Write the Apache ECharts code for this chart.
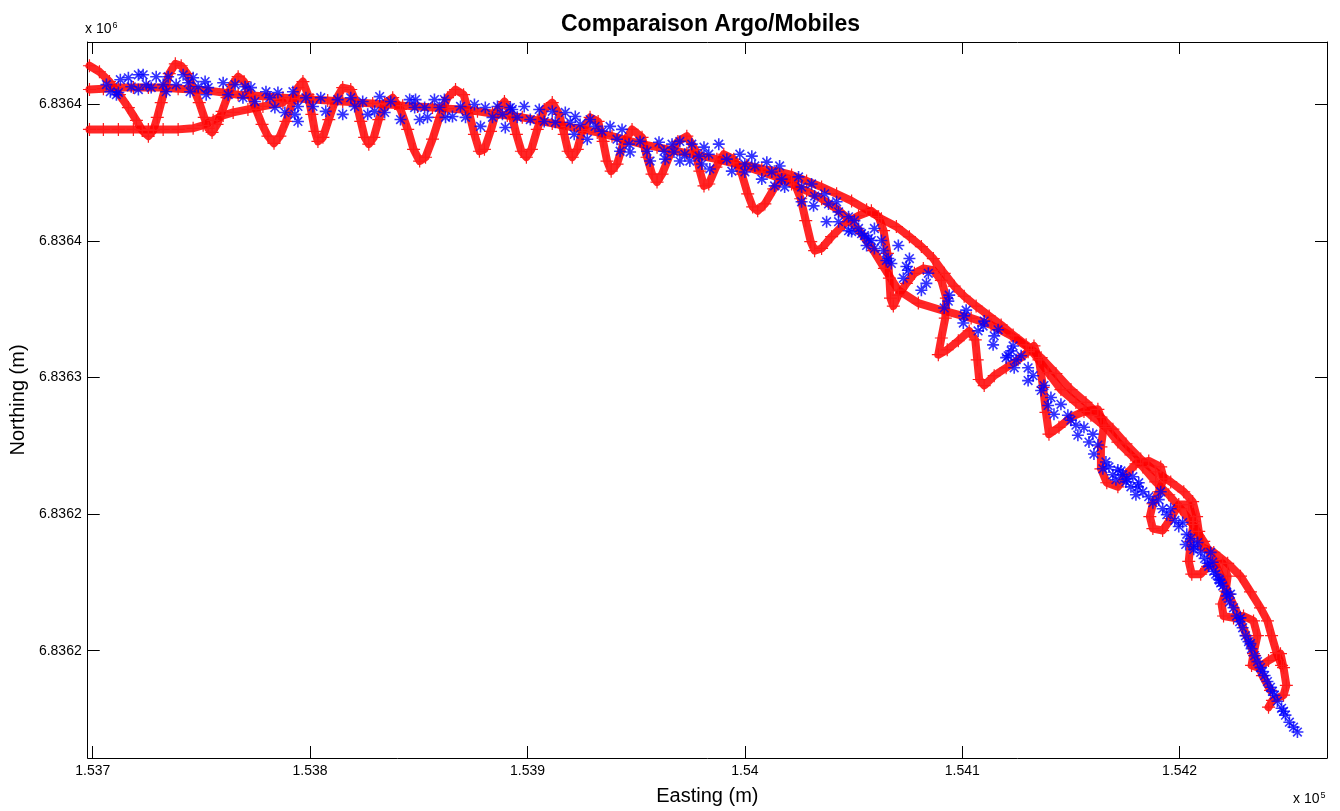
<!DOCTYPE html>
<html>
<head>
<meta charset="utf-8">
<script src="https://cdn.jsdelivr.net/npm/echarts@6/dist/echarts.min.js"></script>
<style>
  html, body { margin: 0; padding: 0; background: #ffffff; }
  #chart { width: 1340px; height: 811px; }
</style>
</head>
<body>
<div id="chart"></div>
<script>
// Axis ticks (metres, Lambert easting / northing)
const xTickValues = [153700, 153800, 153900, 154000, 154100, 154200];
const xTickLabels = ['1.537', '1.538', '1.539', '1.54', '1.541', '1.542'];
const yTickValues = [6836200, 6836250, 6836300, 6836350, 6836400];
const yTickLabels = ['6.8362', '6.8362', '6.8363', '6.8364', '6.8364'];
const xRange = [153697.7, 154267.8];
const yRange = [6836160.7, 6836422.9];

// Mobile positions: weaving pass
const mobileWave = [[153698.5,6836414.2],[153703.1,6836412.0],[153707.7,6836408.4],[153712.3,6836403.6],[153716.4,6836398.9],[153720.1,6836394.2],[153722.8,6836390.5],[153725.6,6836388.4],[153727.9,6836390.5],[153729.7,6836395.3],[153731.5,6836400.7],[153733.4,6836406.2],[153735.2,6836411.3],[153738.0,6836414.9],[153740.7,6836414.2],[153743.5,6836411.3],[153746.2,6836406.2],[153749.0,6836400.7],[153751.3,6836395.3],[153753.1,6836391.3],[153754.9,6836389.8],[153757.2,6836392.7],[153759.5,6836397.5],[153761.8,6836402.5],[153764.1,6836407.3],[153766.9,6836410.2],[153769.6,6836408.4],[153772.4,6836403.6],[153775.1,6836398.2],[153777.9,6836392.7],[153780.6,6836388.4],[153783.4,6836385.8],[153786.1,6836388.4],[153788.9,6836393.8],[153791.6,6836400.4],[153794.4,6836406.2],[153796.7,6836408.4],[153799.0,6836403.6],[153800.8,6836396.4],[153802.2,6836390.2],[153803.6,6836386.5],[153805.9,6836388.0],[153808.6,6836394.5],[153811.4,6836401.1],[153815.0,6836406.2],[153818.7,6836405.5],[153821.5,6836400.0],[153823.3,6836393.8],[153825.1,6836388.0],[153827.0,6836385.5],[153829.3,6836388.0],[153831.6,6836394.5],[153834.3,6836400.4],[153838.0,6836402.5],[153841.6,6836398.2],[153844.9,6836390.9],[153847.6,6836383.6],[153850.4,6836379.3],[153853.1,6836380.7],[153856.3,6836387.3],[153859.5,6836395.3],[153863.2,6836402.5],[153866.9,6836405.5],[153870.6,6836403.6],[153873.3,6836396.4],[153875.6,6836389.1],[153877.9,6836382.9],[153880.2,6836383.6],[153883.0,6836390.2],[153885.7,6836397.5],[153889.4,6836401.1],[153892.6,6836396.4],[153894.9,6836389.1],[153897.2,6836382.9],[153899.5,6836380.7],[153901.8,6836383.6],[153904.5,6836390.9],[153907.7,6836398.2],[153911.4,6836400.7],[153914.6,6836396.4],[153916.9,6836389.1],[153918.7,6836382.9],[153920.6,6836380.7],[153922.9,6836383.6],[153925.2,6836390.2],[153928.8,6836395.3],[153932.5,6836393.8],[153934.8,6836386.5],[153936.6,6836379.3],[153938.5,6836375.6],[153941.2,6836378.2],[153944.0,6836385.5],[153948.1,6836390.9],[153952.7,6836388.0],[153955.0,6836380.7],[153957.3,6836374.5],[153959.6,6836371.6],[153961.9,6836374.5],[153965.6,6836381.8],[153969.2,6836386.5],[153973.3,6836388.4],[153977.0,6836383.6],[153979.3,6836375.6],[153981.2,6836370.2],[153983.4,6836370.9],[153986.7,6836377.1],[153990.3,6836381.8],[153994.9,6836380.0],[153998.6,6836374.5],[154001.3,6836367.3],[154003.6,6836362.5],[154005.9,6836361.1],[154009.2,6836363.6],[154013.3,6836369.1],[154017.9,6836373.5],[154022.5,6836372.0],[154025.7,6836365.5],[154028.0,6836357.5],[154030.3,6836349.8],[154032.1,6836346.5],[154035.3,6836347.3],[154039.9,6836351.6],[154045.9,6836356.4],[154052.3,6836359.3],[154058.2,6836361.1],[154061.5,6836358.9],[154063.8,6836353.8],[154065.6,6836345.5],[154066.5,6836336.4],[154067.0,6836329.1],[154068.3,6836326.2],[154070.6,6836330.2],[154074.3,6836334.5],[154078.0,6836338.2],[154082.1,6836340.0],[154086.7,6836339.3],[154090.4,6836335.6],[154092.7,6836329.1],[154092.2,6836321.8],[154090.4,6836314.5],[154089.0,6836308.4],[154093.1,6836310.2],[154098.2,6836313.5],[154103.2,6836317.1],[154106.0,6836313.8],[154106.9,6836306.5],[154107.8,6836299.3],[154110.1,6836297.1],[154114.7,6836300.7],[154120.2,6836303.6],[154125.7,6836306.5],[154130.3,6836309.5],[154133.0,6836311.6],[154135.3,6836306.5],[154137.2,6836296.4],[154138.5,6836287.3],[154139.9,6836279.3],[154144.5,6836281.8],[154150.0,6836285.5],[154156.0,6836287.6],[154162.4,6836288.4],[154165.2,6836282.6],[154163.8,6836274.6],[154163.8,6836266.6],[154166.5,6836261.5],[154171.6,6836260.0],[154175.3,6836264.4],[154179.9,6836268.4],[154185.8,6836269.5],[154191.3,6836267.3],[154192.7,6836262.9],[154190.4,6836258.2],[154187.7,6836253.8],[154186.3,6836249.1],[154187.7,6836244.7],[154192.2,6836244.0],[154195.9,6836248.4],[154199.6,6836253.5],[154204.2,6836253.5],[154206.5,6836247.3],[154205.1,6836240.0],[154204.2,6836232.7],[154205.6,6836228.0],[154209.7,6836228.0],[154212.9,6836230.9],[154219.8,6836232.0],[154222.1,6836227.3],[154221.2,6836221.8],[154219.3,6836217.1],[154220.2,6836212.7],[154224.8,6836212.0],[154229.4,6836212.7],[154234.0,6836210.9],[154235.8,6836205.5],[154234.0,6836198.9],[154233.1,6836194.6],[154236.3,6836193.8],[154240.9,6836196.4],[154246.4,6836198.9],[154247.8,6836193.8],[154249.1,6836187.3],[154247.8,6836183.7],[154242.7,6836181.8],[154240.9,6836179.3]];

// Mobile positions: steady pass along the route
const mobileMain = [[153698.5,6836405.5],[153704.9,6836405.8],[153711.8,6836406.2],[153718.7,6836406.2],[153725.6,6836406.2],[153732.4,6836406.2],[153739.3,6836405.8],[153746.2,6836405.5],[153753.1,6836405.1],[153760.0,6836404.4],[153766.9,6836403.6],[153773.7,6836403.3],[153780.6,6836402.9],[153787.5,6836402.5],[153794.4,6836402.2],[153801.3,6836401.8],[153808.1,6836401.5],[153815.0,6836401.1],[153821.9,6836400.7],[153828.8,6836400.4],[153835.7,6836400.0],[153842.6,6836399.6],[153849.4,6836399.3],[153856.3,6836398.9],[153863.2,6836398.5],[153870.1,6836398.2],[153877.0,6836397.5],[153883.9,6836396.7],[153890.7,6836396.0],[153897.6,6836395.3],[153904.5,6836394.2],[153911.4,6836393.1],[153918.3,6836392.0],[153925.2,6836390.9],[153932.1,6836389.8],[153938.9,6836388.4],[153945.8,6836386.9],[153952.7,6836385.5],[153959.6,6836384.4],[153966.5,6836383.3],[153973.3,6836382.2],[153980.2,6836381.1],[153987.1,6836380.0],[153994.0,6836378.6],[154000.9,6836377.1],[154007.8,6836375.3],[154014.6,6836373.5],[154021.5,6836370.9],[154028.4,6836368.4],[154035.3,6836365.5],[154042.2,6836361.8],[154048.1,6836357.8],[154053.7,6836352.7],[154059.2,6836346.5],[154064.2,6836340.0],[154070.6,6836332.0],[154079.8,6836327.3],[154091.7,6836324.4],[154104.1,6836321.8],[154113.3,6836319.3],[154122.5,6836315.3],[154131.7,6836310.2],[154139.5,6836301.8],[154145.4,6836295.6],[154152.3,6836290.9],[154159.2,6836286.2],[154166.1,6836281.8],[154171.6,6836276.4],[154177.6,6836271.7],[154183.1,6836267.3],[154189.0,6836261.8],[154195.0,6836257.1],[154200.5,6836252.0],[154206.0,6836246.2],[154211.1,6836240.0],[154215.2,6836233.8],[154218.9,6836227.3],[154222.5,6836220.7],[154226.7,6836213.5],[154230.8,6836205.5],[154234.5,6836198.2],[154238.1,6836190.9],[154241.8,6836185.5]];

// Mobile positions: western start line
const mobileWest = [[153698.5,6836390.9],[153704.9,6836390.9],[153711.8,6836390.9],[153718.7,6836390.9],[153725.6,6836390.9],[153732.4,6836390.9],[153739.3,6836390.9],[153746.2,6836391.3],[153750.8,6836392.4],[153755.4,6836394.2],[153760.0,6836396.0],[153764.6,6836397.1],[153771.4,6836398.2],[153778.3,6836399.3],[153787.5,6836400.7]];

// Mobile positions: outer return pass
const mobileOuter = [[154000.9,6836377.8],[154007.8,6836376.4],[154014.6,6836375.6],[154021.5,6836374.2],[154028.4,6836372.0],[154035.3,6836369.8],[154042.2,6836367.3],[154049.1,6836364.7],[154056.0,6836361.5],[154062.8,6836358.2],[154069.7,6836355.3],[154075.7,6836351.6],[154081.2,6836348.0],[154086.7,6836343.6],[154091.7,6836338.2],[154096.3,6836333.5],[154100.9,6836329.8],[154106.4,6836326.2],[154112.4,6836322.6],[154117.9,6836319.3],[154123.4,6836315.6],[154129.4,6836312.0],[154136.3,6836307.3],[154143.1,6836301.5],[154150.0,6836295.6],[154156.9,6836290.9],[154163.8,6836285.5],[154169.3,6836281.1],[154175.3,6836275.7],[154182.1,6836270.2],[154189.0,6836265.5],[154195.9,6836261.8],[154201.9,6836258.2],[154206.0,6836254.6],[154207.8,6836249.1],[154208.8,6836243.7],[154209.7,6836238.2],[154215.7,6836236.0],[154222.1,6836232.0],[154228.0,6836227.3],[154232.6,6836221.5],[154237.2,6836215.7],[154240.4,6836210.9],[154242.3,6836205.5],[154244.6,6836199.3],[154246.9,6836194.6]];

// Argo fixes
const argoFixes = [[153706.3,6836407.3],[153712.7,6836409.1],[153716.4,6836409.8],[153721.0,6836410.9],[153723.2,6836410.9],[153729.2,6836410.2],[153734.7,6836410.2],[153741.6,6836410.9],[153746.2,6836409.8],[153751.7,6836408.4],[153708.1,6836404.7],[153711.8,6836404.4],[153717.7,6836406.5],[153724.6,6836407.3],[153726.9,6836406.2],[153732.4,6836407.3],[153738.4,6836407.3],[153743.9,6836408.0],[153748.5,6836406.5],[153753.1,6836406.2],[153760.0,6836408.0],[153765.5,6836407.3],[153770.1,6836406.5],[153772.8,6836406.2],[153779.7,6836404.7],[153785.2,6836404.4],[153792.1,6836404.7],[153710.9,6836403.6],[153721.0,6836405.5],[153733.8,6836404.7],[153744.8,6836404.7],[153752.2,6836403.6],[153762.3,6836403.6],[153769.1,6836402.5],[153774.6,6836401.1],[153781.5,6836402.5],[153783.8,6836398.9],[153788.4,6836397.1],[153793.0,6836396.4],[153794.4,6836393.8],
[153794.4,6836399.3],[153798.1,6836402.5],[153801.3,6836399.3],[153804.9,6836402.5],[153807.2,6836397.5],[153812.7,6836401.8],[153815.0,6836396.4],[153818.7,6836402.5],[153820.5,6836399.3],[153824.2,6836401.1],[153826.5,6836396.4],[153829.7,6836397.5],[153832.0,6836402.9],[153834.3,6836397.1],[153837.1,6836401.1],[153841.6,6836394.5],[153845.8,6836401.8],[153848.5,6836401.8],[153848.1,6836398.9],[153850.4,6836394.5],[153852.7,6836398.9],[153854.0,6836395.3],[153857.2,6836401.8],[153859.5,6836398.9],[153861.8,6836401.8],[153862.3,6836395.3],[153865.5,6836395.6],[153869.2,6836399.3],[153871.5,6836395.3],[153875.6,6836400.0],[153878.4,6836392.0],[153880.6,6836398.9],[153883.9,6836395.3],[153886.2,6836399.3],[153888.5,6836396.4],[153889.8,6836391.6],[153892.1,6836398.9],
[153893.0,6836398.2],[153895.3,6836395.3],[153898.5,6836399.3],[153901.3,6836394.5],[153905.4,6836398.2],[153907.7,6836393.8],[153911.4,6836397.5],[153912.8,6836393.5],[153917.4,6836397.1],[153919.7,6836393.5],[153922.0,6836395.6],[153924.2,6836392.7],[153928.8,6836394.5],[153931.1,6836392.0],[153934.3,6836390.2],[153921.5,6836389.1],[153927.5,6836387.3],[153938.0,6836392.0],[153941.2,6836387.3],[153943.5,6836390.9],[153942.6,6836382.9],[153947.2,6836382.6],[153946.7,6836385.5],[153951.8,6836386.5],[153955.0,6836382.9],[153956.4,6836379.3],[153960.5,6836386.2],[153962.8,6836382.9],[153963.3,6836380.0],[153966.5,6836385.5],[153967.4,6836382.6],[153970.1,6836386.5],[153970.1,6836379.3],[153972.4,6836381.8],[153975.6,6836385.5],[153974.7,6836379.3],[153978.9,6836381.1],[153981.2,6836384.4],[153980.2,6836378.2],[153983.9,6836376.4],[153983.4,6836381.8],[153988.0,6836385.5],
[153991.7,6836380.0],[153994.0,6836375.6],[153997.7,6836381.8],[154000.0,6836378.2],[154003.2,6836381.1],[154000.0,6836375.3],[154004.6,6836377.5],[154010.1,6836378.9],[154012.4,6836375.3],[154007.8,6836372.7],[154016.0,6836377.5],[154016.9,6836372.7],[154013.7,6836370.2],[154018.3,6836369.8],[154024.7,6836373.5],[154026.1,6836369.8],[154030.7,6836370.9],[154026.1,6836364.4],[154032.1,6836366.5],[154031.6,6836362.9],[154036.7,6836367.3],[154038.5,6836363.6],[154042.2,6836364.4],[154043.1,6836360.7],[154037.6,6836357.1],[154043.1,6836357.1],[154047.7,6836358.9],[154050.4,6836357.5],[154047.7,6836353.8],[154052.3,6836354.6],[154053.7,6836352.7],[154059.6,6836354.6],[154056.9,6836350.9],[154056.0,6836348.4],[154062.8,6836350.2],[154059.6,6836347.3],[154063.8,6836346.5],[154070.6,6836348.4],[154066.0,6836343.6],[154067.4,6836341.8],
[154049.1,6836353.5],[154055.0,6836352.0],[154058.2,6836350.2],[154065.1,6836342.9],[154075.7,6836343.6],[154074.3,6836340.7],[154075.2,6836339.3],[154072.9,6836336.4],[154084.4,6836338.2],[154083.5,6836334.5],[154081.2,6836332.0],[154094.0,6836330.2],[154093.6,6836328.0],[154091.7,6836325.5],[154101.8,6836324.7],[154100.9,6836322.6],[154100.5,6836320.0],[154107.3,6836317.1],[154110.1,6836320.7],[154109.6,6836318.9],[154116.5,6836317.5],[154114.7,6836315.3],[154114.2,6836312.0],[154121.1,6836308.0],[154123.4,6836311.6],[154122.5,6836309.8],[154124.8,6836306.5],[154123.9,6836303.6],
[154127.1,6836308.0],[154120.2,6836307.3],[154130.3,6836303.6],[154132.6,6836300.7],[154130.3,6836298.9],[154136.3,6836295.3],[154137.6,6836297.1],[154140.8,6836292.7],[154139.5,6836289.8],[154145.4,6836290.2],[154142.2,6836286.6],[154148.6,6836286.2],[154150.0,6836284.4],[154152.3,6836282.6],[154156.0,6836281.8],[154153.2,6836278.9],[154160.1,6836279.3],[154158.3,6836276.4],[154162.4,6836275.3],[154160.6,6836272.0],[154166.1,6836269.1],[154164.7,6836266.6],[154171.6,6836266.2],[154173.9,6836264.4],[154175.3,6836261.8],[154178.5,6836263.7],[154180.8,6836260.0],[154170.7,6836262.6],
[154167.5,6836267.3],[154169.3,6836264.4],[154173.0,6836265.8],[154175.7,6836262.9],[154177.6,6836260.0],[154181.2,6836261.5],[154183.1,6836258.2],[154185.8,6836256.4],[154187.7,6836254.2],[154190.4,6836255.3],[154192.2,6836252.0],[154194.1,6836249.8],[154195.9,6836252.0],[154197.8,6836247.7],[154199.6,6836245.5],[154201.4,6836246.9],[154203.3,6836242.6],[154205.1,6836241.1],[154206.5,6836238.2],[154208.3,6836239.6],[154209.7,6836236.0],[154211.5,6836233.8],[154213.4,6836230.9],[154215.2,6836232.4],[154216.6,6836228.0],[154218.4,6836225.8],[154219.8,6836223.7],[154221.6,6836221.5],[154214.3,6836236.0],[154202.8,6836238.9],[154191.3,6836258.2],[154179.9,6836257.1],
[154206.5,6836237.1],[154212.9,6836232.0],[154218.9,6836224.8],[154215.7,6836229.1],[154218.0,6836226.2],[154221.6,6836220.0],[154223.0,6836217.8],[154224.8,6836215.7],[154226.2,6836212.7],[154227.6,6836210.6],[154229.0,6836208.4],[154230.3,6836205.5],[154231.7,6836203.3],[154233.1,6836200.7],[154234.5,6836198.2],[154235.8,6836196.0],[154237.2,6836193.8],[154239.1,6836190.9],[154240.4,6836188.7],[154241.8,6836186.6],[154243.6,6836183.7],[154245.0,6836181.5],[154246.9,6836178.9],[154248.7,6836176.4],[154250.5,6836173.8],[154252.4,6836172.0],[154254.2,6836170.2],[154223.4,6836220.7],[154228.0,6836212.0],[154232.6,6836202.6],[154238.1,6836192.4],[154242.7,6836185.1],[154247.8,6836177.8]];

const FONT = '"Liberation Sans", Arial, Helvetica, sans-serif';
const plusMark = 'path://M0,-5L0,5M-5,0L5,0';
const starMark = 'path://M0,-5L0,5M-5,0L5,0M-3.6,-3.6L3.6,3.6M-3.6,3.6L3.6,-3.6';

function pickLabel(values, labels) {
  return function (v) {
    const i = values.findIndex(function (t) { return Math.abs(t - v) < 1e-6; });
    return i >= 0 ? labels[i] : '';
  };
}

function boxAxis(extra) {
  return Object.assign({
    type: 'value',
    axisLine: { show: true, onZero: false, lineStyle: { color: '#000', width: 1 } },
    splitLine: { show: false },
    axisPointer: { show: false }
  }, extra);
}

function mobileSeries(track) {
  return {
    name: 'Mobiles',
    type: 'line',
    data: track,
    symbol: plusMark,
    symbolSize: 13,
    showSymbol: true,
    silent: true,
    z: 2,
    lineStyle: { color: 'rgba(255,0,0,0.85)', width: 8, join: 'round', cap: 'round' },
    itemStyle: { color: 'transparent', borderColor: '#ff1a1a', borderWidth: 1.2 }
  };
}

const chart = echarts.init(document.getElementById('chart'), null, { renderer: 'canvas' });

chart.setOption({
  animation: false,
  backgroundColor: '#ffffff',
  title: {
    text: 'Comparaison Argo/Mobiles',
    left: 705.5, top: 8, textAlign: 'center',
    textStyle: { color: '#000', fontSize: 23, fontWeight: 'bold', fontFamily: FONT }
  },
  grid: { left: 84, right: 13, top: 42, bottom: 48, containLabel: false },
  xAxis: [
    boxAxis({
      position: 'bottom', min: xRange[0], max: xRange[1],
      axisTick: { show: true, inside: true, length: 12, customValues: xTickValues, lineStyle: { color: '#000' } },
      axisLabel: { customValues: xTickValues, formatter: pickLabel(xTickValues, xTickLabels),
                   color: '#000', fontSize: 14, fontFamily: FONT, margin: 6 },
      name: 'Easting (m)', nameLocation: 'middle', nameGap: 28,
      nameTextStyle: { color: '#000', fontSize: 20, fontFamily: FONT }
    }),
    boxAxis({
      position: 'top', min: xRange[0], max: xRange[1],
      axisTick: { show: true, inside: true, length: 12, customValues: xTickValues, lineStyle: { color: '#000' } },
      axisLabel: { show: false }
    })
  ],
  yAxis: [
    boxAxis({
      position: 'left', min: yRange[0], max: yRange[1],
      axisTick: { show: true, inside: true, length: 12, customValues: yTickValues, lineStyle: { color: '#000' } },
      axisLabel: { customValues: yTickValues, formatter: pickLabel(yTickValues, yTickLabels),
                   color: '#000', fontSize: 14, fontFamily: FONT, margin: 6 },
      name: 'Northing (m)', nameLocation: 'middle', nameGap: 56,
      nameTextStyle: { color: '#000', fontSize: 20, fontFamily: FONT }
    }),
    boxAxis({
      position: 'right', min: yRange[0], max: yRange[1],
      axisTick: { show: true, inside: true, length: 12, customValues: yTickValues, lineStyle: { color: '#000' } },
      axisLabel: { show: false }
    })
  ],
  graphic: [
    { type: 'text', x: 85, y: 21, silent: true,
      style: { text: 'x 10{s|6}', fill: '#000', font: '14px ' + FONT,
               rich: { s: { fontSize: 9, fontFamily: FONT, verticalAlign: 'top', padding: [0, 0, 8, 1] } } } },
    { type: 'text', x: 1293, y: 791, silent: true,
      style: { text: 'x 10{s|5}', fill: '#000', font: '14px ' + FONT,
               rich: { s: { fontSize: 9, fontFamily: FONT, verticalAlign: 'top', padding: [0, 0, 8, 1] } } } }
  ],
  series: [
    mobileSeries(mobileWest),
    mobileSeries(mobileMain),
    mobileSeries(mobileOuter),
    mobileSeries(mobileWave),
    {
      name: 'Argo', type: 'scatter', data: argoFixes, symbol: starMark, symbolSize: 12,
      silent: true, z: 3,
      itemStyle: { color: 'transparent', borderColor: '#0000ff', borderWidth: 1.6 }
    }
  ]
});
</script>
</body>
</html>
